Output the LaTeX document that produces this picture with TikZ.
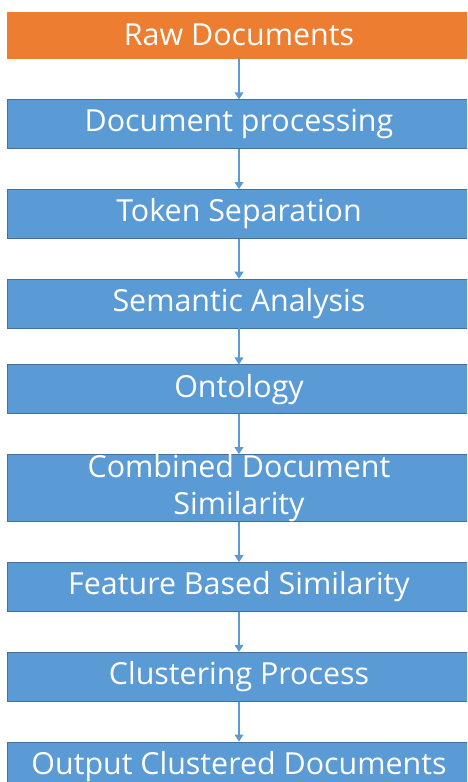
\documentclass[tikz,border=0pt]{standalone}
\usepackage{fontspec}
\setmainfont{Open Sans}
\usepackage{tikz}
\usetikzlibrary{positioning, arrows.meta}

\definecolor{rawfill}{HTML}{ED7D31}
\definecolor{stepfill}{HTML}{5B9BD5}
\definecolor{stepline}{HTML}{41719C}

\tikzset{
  stepbox/.style={draw=stepline, fill=stepfill, text=white, minimum width=9.28cm,
    minimum height=0.98cm, inner sep=0pt, align=center,
    font=\fontsize{17.3}{21}\selectfont},
  rawbox/.style={stepbox, draw=rawfill, fill=rawfill, minimum height=0.92cm},
  flow/.style={draw=stepfill, thick, -{Triangle[width=5pt,length=4pt]}}
}

\begin{document}
\begin{tikzpicture}[node distance=0.8cm]

\clip (0,0) rectangle (9.34,-15.64);
\fill[white] (0,0) rectangle (9.34,-15.64);

\node[rawbox] (raw) at (4.78,-0.70) {Raw Documents};
\node[stepbox, below=0.82cm of raw] (proc) {Document processing};
\node[stepbox, below=of proc] (token) {Token Separation};
\node[stepbox, below=of token] (sem) {Semantic Analysis};
\node[stepbox, below=0.72cm of sem] (onto) {Ontology};
\node[stepbox, below=of onto, minimum height=1.34cm] (comb) {Combined Document\\Similarity};
\node[stepbox, below=of comb] (feat) {Feature Based Similarity};
\node[stepbox, below=of feat] (clus) {Clustering Process};
\node[stepbox, below=of clus] (out) {Output Clustered Documents};

\draw[flow] (raw) -- (proc);
\draw[flow] (proc) -- (token);
\draw[flow] (token) -- (sem);
\draw[flow] (sem) -- (onto);
\draw[flow] (onto) -- (comb);
\draw[flow] (comb) -- (feat);
\draw[flow] (feat) -- (clus);
\draw[flow] (clus) -- (out);

\end{tikzpicture}
\end{document}
